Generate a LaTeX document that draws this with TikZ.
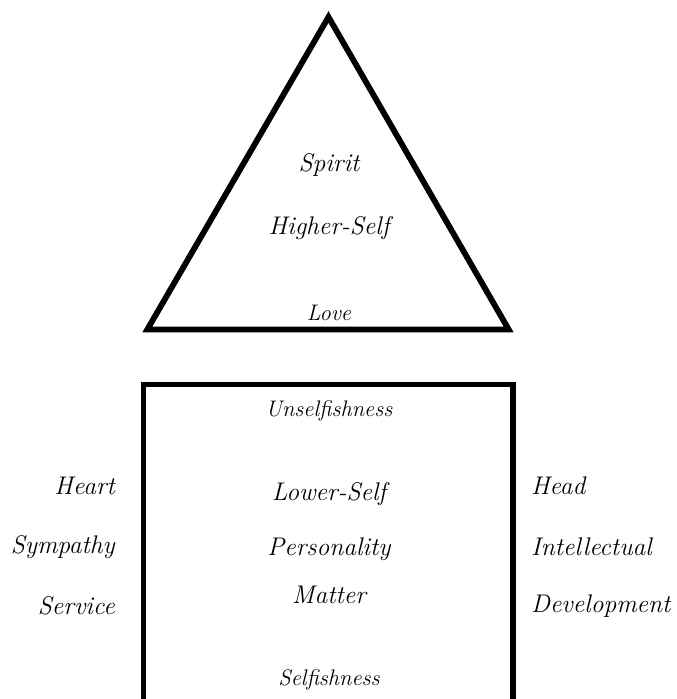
\documentclass[tikz,border=0pt]{standalone}
\usepackage{fontspec}
\begin{document}
\begin{tikzpicture}[x=1pt,y=-1pt,
  big/.style={font=\itshape\fontsize{25.5}{30}\selectfont, inner sep=0pt},
  small/.style={font=\itshape\fontsize{22.5}{26}\selectfont, inner sep=0pt},
  outline/.style={draw=black, line width=5.8pt, miter limit=10}]
\clip (0,0) rectangle (677,699);
\useasboundingbox (0,0) rectangle (677,699);
\coordinate (tl) at (147.3,329.5);
\coordinate (ta) at (328.5,17);
\coordinate (tr) at (508.7,329.5);
\draw[outline, line join=miter] (tl) -- (ta) -- (tr) -- cycle;
\coordinate (sa) at (143.5,384.5);
\coordinate (sb) at (513,720);
\draw[outline] (sa) rectangle (sb);
\node[big] (spirit) at (329,165) {Spirit};
\node[big] (higher) at (329,228) {Higher-Self};
\node[small] (love) at (329,313) {Love};
\node[small] (unself) at (329,411) {Unselfishness};
\node[big] (lower) at (329,494) {Lower-Self};
\node[big] (pers) at (329,549) {Personality};
\node[big] (matter) at (329,595) {Matter};
\node[small] (self) at (329,680) {Selfishness};
\node[big, anchor=east] (heart) at (115,486) {Heart};
\node[big, anchor=east] (symp) at (115,547) {Sympathy};
\node[big, anchor=east] (serv) at (115,606) {Service};
\node[big, anchor=west] (head) at (531,486) {Head};
\node[big, anchor=west] (intel) at (531,547) {Intellectual};
\node[big, anchor=west] (dev) at (531,606) {Development};
\end{tikzpicture}
\end{document}
